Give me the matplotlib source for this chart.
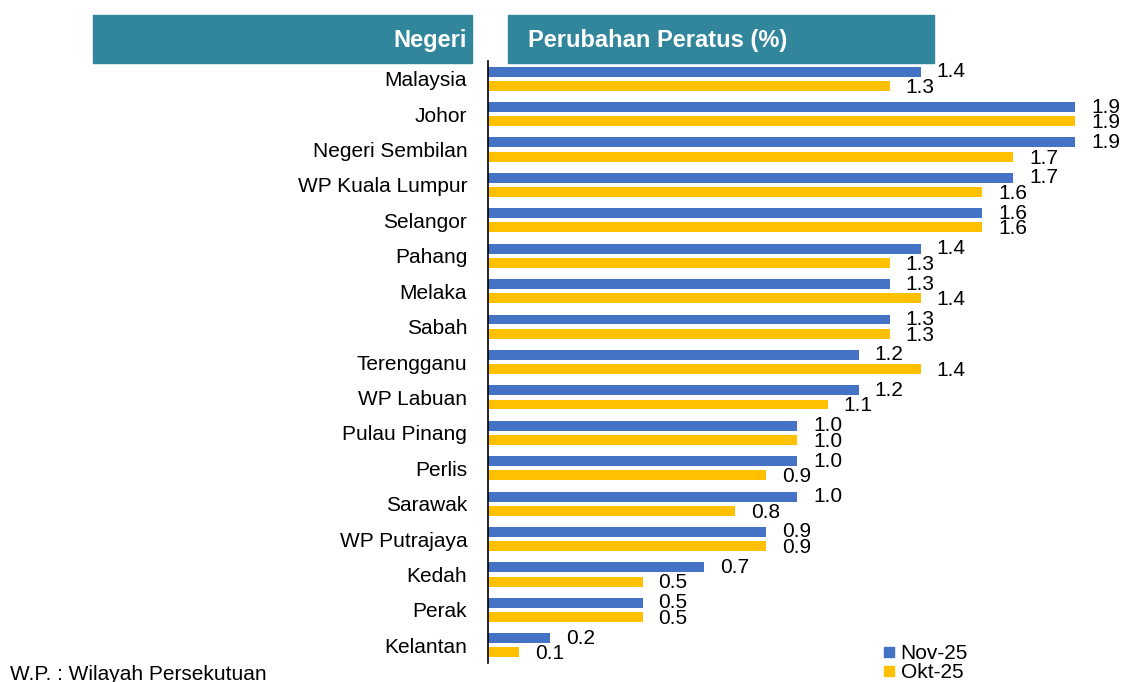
import matplotlib
matplotlib.use("Agg")
import matplotlib.pyplot as plt
from matplotlib.lines import Line2D
from matplotlib.patches import Rectangle
import numpy as np

plt.rcParams['font.family'] = ['Liberation Sans', 'DejaVu Sans']

states = ["Malaysia", "Johor", "Negeri Sembilan", "WP Kuala Lumpur", "Selangor",
          "Pahang", "Melaka", "Sabah", "Terengganu", "WP Labuan", "Pulau Pinang",
          "Perlis", "Sarawak", "WP Putrajaya", "Kedah", "Perak", "Kelantan"]
nov25 = [1.4, 1.9, 1.9, 1.7, 1.6, 1.4, 1.3, 1.3, 1.2, 1.2, 1.0, 1.0, 1.0, 0.9, 0.7, 0.5, 0.2]
okt25 = [1.3, 1.9, 1.7, 1.6, 1.6, 1.3, 1.4, 1.3, 1.4, 1.1, 1.0, 0.9, 0.8, 0.9, 0.5, 0.5, 0.1]
series_names = ["Nov-25", "Okt-25"]
header_left = "Negeri"
header_right = "Perubahan Peratus (%)"
footnote = "W.P. : Wilayah Persekutuan"

BLUE = "#4472C4"
YELLOW = "#FFC000"
TEAL = "#31869B"

W, H = 1124, 682
fig = plt.figure(figsize=(W / 100, H / 100), dpi=100)

ax = fig.add_axes([488 / W, 1 - 663 / H, 618 / W, 602 / H])
y = np.arange(len(states))
bh = 0.28
ax.barh(y - 0.2, nov25, height=bh, color=BLUE)
ax.barh(y + 0.2, okt25, height=bh, color=YELLOW)
ax.set_xlim(0, 2.0)
ax.set_ylim(len(states) - 0.5, -0.5)
for s in ["top", "right", "bottom"]:
    ax.spines[s].set_visible(False)
ax.spines["left"].set_color("black")
ax.spines["left"].set_linewidth(1.2)
ax.set_xticks([])
ax.set_yticks(y)
ax.set_yticklabels(states, fontsize=15)
ax.tick_params(axis="y", length=0, pad=15)

for i in range(len(states)):
    ax.annotate(f"{nov25[i]:.1f}", (nov25[i], i - 0.2), xytext=(11.5, 0.0),
                textcoords="offset points", ha="left", va="center", fontsize=15)
    ax.annotate(f"{okt25[i]:.1f}", (okt25[i], i + 0.2), xytext=(11.5, -1.0),
                textcoords="offset points", ha="left", va="center", fontsize=15)

# header boxes
fig.patches.append(Rectangle((93 / W, 1 - 63 / H), (472 - 93) / W, 48 / H,
                             transform=fig.transFigure, color=TEAL, zorder=0))
fig.patches.append(Rectangle((508 / W, 1 - 63 / H), (934 - 508) / W, 48 / H,
                             transform=fig.transFigure, color=TEAL, zorder=0))
hfont = dict(family=['Liberation Sans Narrow', 'Liberation Sans'], weight='bold',
             color='white', fontsize=17, va='center')
fig.text(467 / W, 1 - 40 / H, header_left, ha='right', **hfont)
fig.text(528 / W, 1 - 40 / H, header_right, ha='left', **hfont)

# legend
handles = [Line2D([], [], marker='s', linestyle='none', color=BLUE, markersize=7),
           Line2D([], [], marker='s', linestyle='none', color=YELLOW, markersize=7)]
fig.legend(handles, series_names, loc='upper left', bbox_to_anchor=(884 / W, 1 - 644 / H),
           frameon=False, fontsize=15, handlelength=0.5, handletextpad=0.3,
           labelspacing=0.0, borderpad=0, borderaxespad=0)

fig.text(10 / W, 1 - 674 / H, footnote, ha='left', va='center', fontsize=15)

fig.savefig("out.png", dpi=100)
